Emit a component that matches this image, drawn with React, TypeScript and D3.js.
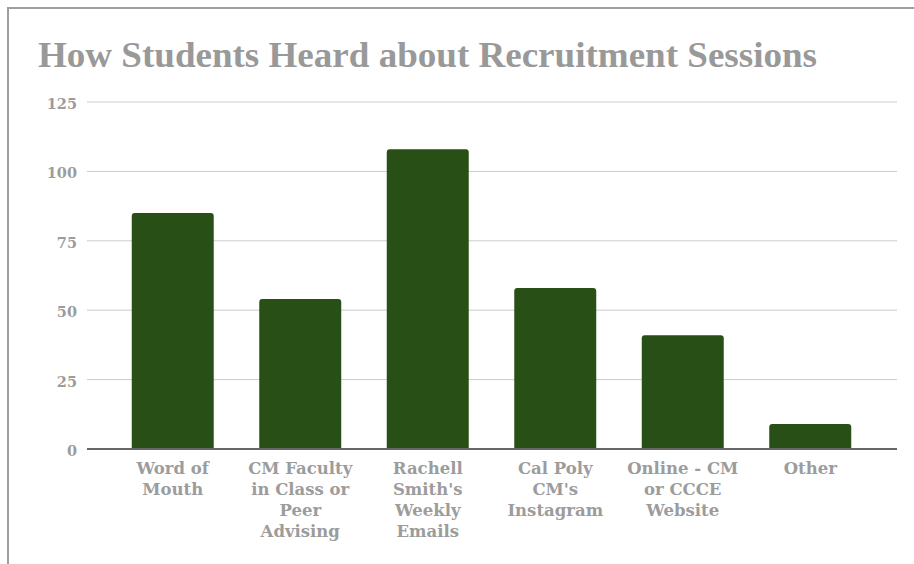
import React from "react";
import * as d3 from "d3";

const categories: string[] = [
  "Word of\nMouth",
  "CM Faculty\nin Class or\nPeer\nAdvising",
  "Rachell\nSmith's\nWeekly\nEmails",
  "Cal Poly\nCM's\nInstagram",
  "Online - CM\nor CCCE\nWebsite",
  "Other",
];
const values: number[] = [85, 54, 108, 58, 41, 9];
const yTicks: number[] = [0, 25, 50, 75, 100, 125];
const title = "How Students Heard about Recruitment Sessions";

const W = 914;
const H = 564;
const plotLeft = 87;
const plotRight = 897;
const plotTop = 102;
const plotBottom = 449;
const barColor = "#284f15";
const textGray = "#9c9c9c";

function topRoundedRect(x: number, y: number, w: number, h: number, r: number) {
  const rr = Math.min(r, h, w / 2);
  return `M${x},${y + h}V${y + rr}Q${x},${y} ${x + rr},${y}H${x + w - rr}Q${x + w},${y} ${x + w},${y + rr}V${y + h}Z`;
}

export default function App() {
  const x = d3
    .scaleBand<string>()
    .domain(categories)
    .range([109, 874])
    .paddingInner(0.357)
    .paddingOuter(0.1785);
  const y = d3.scaleLinear().domain([0, 125]).range([plotBottom, plotTop]);

  return (
    <svg
      width={W}
      height={H}
      style={{ position: "absolute", left: 0, top: 0, background: "#fff" }}
    >
      <rect x={0} y={0} width={W} height={H} fill="#fff" />
      {/* frame */}
      <line x1={8} x2={W} y1={8} y2={8} stroke="#9e9e9e" strokeWidth={2} />
      <line x1={8} x2={8} y1={7} y2={H} stroke="#9e9e9e" strokeWidth={2} />

      <text
        x={38}
        y={67}
        fontFamily="'Liberation Serif', 'DejaVu Serif', serif"
        fontWeight="bold"
        fontSize={35}
        fill="#999999"
        textLength={779}
        lengthAdjust="spacingAndGlyphs"
      >
        {title}
      </text>

      {/* gridlines */}
      {yTicks.map((t) =>
        t === 0 ? null : (
          <line
            key={"g" + t}
            x1={plotLeft}
            x2={plotRight}
            y1={y(t)}
            y2={y(t)}
            stroke="#cccccc"
            strokeWidth={1}
          />
        )
      )}
      {yTicks.map((t) => (
        <text
          key={"t" + t}
          x={77}
          y={y(t) + 7}
          textAnchor="end"
          fontFamily="'DejaVu Serif', serif"
          fontWeight="bold"
          fontSize={14.5}
          fill={textGray}
        >
          {t}
        </text>
      ))}

      {/* bars */}
      {categories.map((c, i) => (
        <path
          key={"b" + i}
          d={topRoundedRect(x(c)!, y(values[i]), x.bandwidth(), plotBottom - y(values[i]), 3)}
          fill={barColor}
        />
      ))}

      {/* baseline */}
      <line x1={plotLeft} x2={plotRight} y1={plotBottom} y2={plotBottom} stroke="#666" strokeWidth={2} />

      {/* category labels */}
      {categories.map((c, i) => (
        <text
          key={"c" + i}
          x={x(c)! + x.bandwidth() / 2}
          y={474}
          textAnchor="middle"
          fontFamily="'DejaVu Serif', serif"
          fontWeight="bold"
          fontSize={16.5}
          fill={textGray}
        >
          {c.split("\n").map((line, j) => (
            <tspan key={j} x={x(c)! + x.bandwidth() / 2} dy={j === 0 ? 0 : 21}>
              {line}
            </tspan>
          ))}
        </text>
      ))}
    </svg>
  );
}
